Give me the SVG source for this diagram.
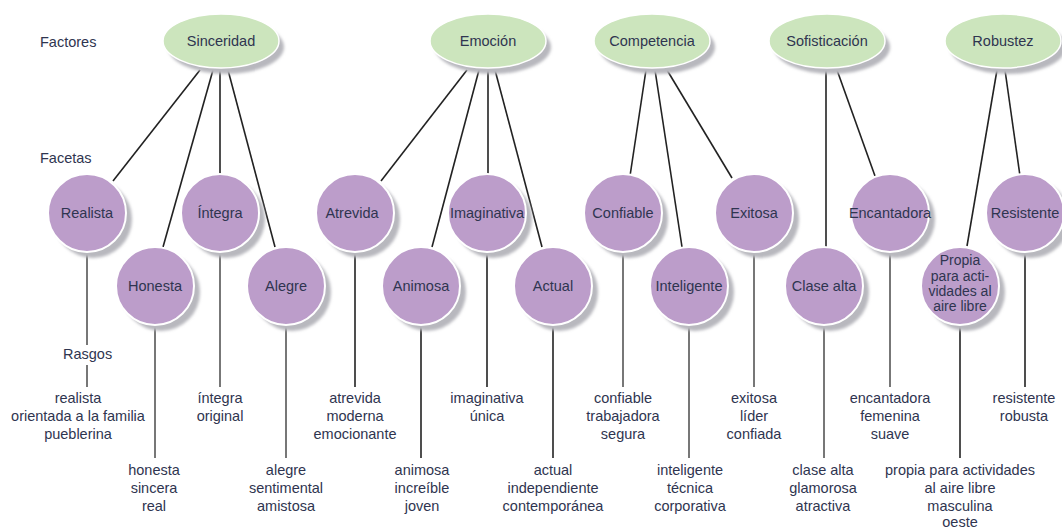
<svg xmlns="http://www.w3.org/2000/svg" width="1062" height="529" viewBox="0 0 1062 529">
<style>
text{font-family:"Liberation Sans Narrow","Liberation Sans",Arial,sans-serif;fill:#2f3550;text-anchor:middle}
.lbl{font-size:14.5px}
.row{font-size:14.5px;text-anchor:start}
.tr{font-size:14.5px}
.pr{font-size:14px}
.fac ellipse.b{fill:#cce5bd;stroke:#fff;stroke-width:1.5}
.sh{fill:#b8b8be;filter:url(#bl)}
.fc circle.b{fill:#bc9dca;stroke:#fff;stroke-width:2}
.cn line{stroke:#222;stroke-width:1.6}
.cn line.g{stroke:#777;stroke-width:2}
</style>
<defs>
<filter id="bl" x="-20%" y="-20%" width="140%" height="140%"><feGaussianBlur stdDeviation="1.5"/></filter>
</defs>
<rect width="1062" height="529" fill="#fff"/>
<text class="row" x="40" y="47">Factores</text>
<text class="row" x="40" y="163">Facetas</text>
<text class="row" x="63" y="359">Rasgos</text>

<g id="connectors" class="cn">
<line x1="200" y1="70" x2="113" y2="181"/>
<line x1="213" y1="70" x2="163" y2="247"/>
<line x1="220" y1="70" x2="220" y2="175"/>
<line x1="228" y1="70" x2="275" y2="247"/>
<line x1="467" y1="70" x2="381" y2="181"/>
<line x1="479" y1="70" x2="432" y2="247"/>
<line x1="488" y1="70" x2="488" y2="175"/>
<line x1="495" y1="70" x2="542" y2="247"/>
<line x1="646" y1="70" x2="630" y2="176"/>
<line x1="655" y1="70" x2="682" y2="247"/>
<line x1="667" y1="70" x2="732" y2="178"/>
<line x1="826" y1="70" x2="826" y2="247"/>
<line x1="837" y1="70" x2="875" y2="176"/>
<line x1="997" y1="70" x2="967" y2="246"/>
<line x1="1005" y1="70" x2="1020" y2="176"/>
<line class="g" x1="87" y1="253" x2="87" y2="345"/>
<line class="g" x1="87" y1="365" x2="87" y2="387"/>
<line class="g" x1="155" y1="326" x2="155" y2="458"/>
<line class="g" x1="220" y1="253" x2="220" y2="387"/>
<line class="g" x1="286" y1="326" x2="286" y2="458"/>
<line x1="355" y1="253" x2="355" y2="387"/>
<line x1="421" y1="326" x2="421" y2="458"/>
<line x1="487" y1="253" x2="487" y2="387"/>
<line x1="553" y1="326" x2="553" y2="458"/>
<line class="g" x1="623" y1="253" x2="623" y2="387"/>
<line class="g" x1="689" y1="326" x2="689" y2="458"/>
<line class="g" x1="754" y1="253" x2="754" y2="387"/>
<line class="g" x1="824" y1="326" x2="824" y2="458"/>
<line class="g" x1="890" y1="253" x2="890" y2="387"/>
<line x1="960" y1="326" x2="960" y2="458"/>
<line x1="1025" y1="253" x2="1025" y2="387"/>
</g>

<g id="f-sinceridad" class="fac"><ellipse class="sh" cx="226" cy="47" rx="58" ry="27"/><ellipse class="b" cx="221" cy="41" rx="58" ry="27"/><text class="lbl" x="221" y="46">Sinceridad</text></g>
<g id="f-emocion" class="fac"><ellipse class="sh" cx="493" cy="47" rx="58" ry="27"/><ellipse class="b" cx="488" cy="41" rx="58" ry="27"/><text class="lbl" x="488" y="46">Emoción</text></g>
<g id="f-competencia" class="fac"><ellipse class="sh" cx="657" cy="47" rx="58" ry="27"/><ellipse class="b" cx="652" cy="41" rx="58" ry="27"/><text class="lbl" x="652" y="46">Competencia</text></g>
<g id="f-sofisticacion" class="fac"><ellipse class="sh" cx="832" cy="47" rx="58" ry="27"/><ellipse class="b" cx="827" cy="41" rx="58" ry="27"/><text class="lbl" x="827" y="46">Sofisticación</text></g>
<g id="f-robustez" class="fac"><ellipse class="sh" cx="1008" cy="47" rx="58" ry="27"/><ellipse class="b" cx="1003" cy="41" rx="58" ry="27"/><text class="lbl" x="1003" y="46">Robustez</text></g>

<g id="n-realista" class="fc"><circle class="sh" cx="93" cy="219" r="39"/><circle class="b" cx="87" cy="213" r="39"/><text class="lbl" x="87" y="218">Realista</text></g>
<g id="n-honesta" class="fc"><circle class="sh" cx="161" cy="292" r="39"/><circle class="b" cx="155" cy="286" r="39"/><text class="lbl" x="155" y="291">Honesta</text></g>
<g id="n-integra" class="fc"><circle class="sh" cx="226" cy="219" r="39"/><circle class="b" cx="220" cy="213" r="39"/><text class="lbl" x="220" y="218">Íntegra</text></g>
<g id="n-alegre" class="fc"><circle class="sh" cx="292" cy="292" r="39"/><circle class="b" cx="286" cy="286" r="39"/><text class="lbl" x="286" y="291">Alegre</text></g>
<g id="n-atrevida" class="fc"><circle class="sh" cx="361" cy="219" r="39"/><circle class="b" cx="355" cy="213" r="39"/><text class="lbl" x="352" y="218">Atrevida</text></g>
<g id="n-animosa" class="fc"><circle class="sh" cx="427" cy="292" r="39"/><circle class="b" cx="421" cy="286" r="39"/><text class="lbl" x="421" y="291">Animosa</text></g>
<g id="n-imaginativa" class="fc"><circle class="sh" cx="493" cy="219" r="39"/><circle class="b" cx="487" cy="213" r="39"/><text class="lbl" x="487" y="218">Imaginativa</text></g>
<g id="n-actual" class="fc"><circle class="sh" cx="559" cy="292" r="39"/><circle class="b" cx="553" cy="286" r="39"/><text class="lbl" x="553" y="291">Actual</text></g>
<g id="n-confiable" class="fc"><circle class="sh" cx="629" cy="219" r="39"/><circle class="b" cx="623" cy="213" r="39"/><text class="lbl" x="623" y="218">Confiable</text></g>
<g id="n-inteligente" class="fc"><circle class="sh" cx="695" cy="292" r="39"/><circle class="b" cx="689" cy="286" r="39"/><text class="lbl" x="689" y="291">Inteligente</text></g>
<g id="n-exitosa" class="fc"><circle class="sh" cx="760" cy="219" r="39"/><circle class="b" cx="754" cy="213" r="39"/><text class="lbl" x="754" y="218">Exitosa</text></g>
<g id="n-clasealta" class="fc"><circle class="sh" cx="830" cy="292" r="39"/><circle class="b" cx="824" cy="286" r="39"/><text class="lbl" x="824" y="291">Clase alta</text></g>
<g id="n-encantadora" class="fc"><circle class="sh" cx="896" cy="219" r="39"/><circle class="b" cx="890" cy="213" r="39"/><text class="lbl" x="890" y="218">Encantadora</text></g>
<g id="n-propia" class="fc"><circle class="sh" cx="966" cy="292" r="39"/><circle class="b" cx="960" cy="286" r="39"/><text class="pr" x="960" y="265">Propia</text><text class="pr" x="960" y="281">para acti-</text><text class="pr" x="960" y="296">vidades al</text><text class="pr" x="960" y="311">aire libre</text></g>
<g id="n-resistente" class="fc"><circle class="sh" cx="1031" cy="219" r="39"/><circle class="b" cx="1025" cy="213" r="39"/><text class="lbl" x="1025" y="218">Resistente</text></g>

<g id="traits">
<text class="tr" x="78" y="403">realista</text><text class="tr" x="78" y="421">orientada a la familia</text><text class="tr" x="78" y="439">pueblerina</text>
<text class="tr" x="154" y="475">honesta</text><text class="tr" x="154" y="493">sincera</text><text class="tr" x="154" y="511">real</text>
<text class="tr" x="220" y="403">íntegra</text><text class="tr" x="220" y="421">original</text>
<text class="tr" x="286" y="475">alegre</text><text class="tr" x="286" y="493">sentimental</text><text class="tr" x="286" y="511">amistosa</text>
<text class="tr" x="355" y="403">atrevida</text><text class="tr" x="355" y="421">moderna</text><text class="tr" x="355" y="439">emocionante</text>
<text class="tr" x="422" y="475">animosa</text><text class="tr" x="422" y="493">increíble</text><text class="tr" x="422" y="511">joven</text>
<text class="tr" x="487" y="403">imaginativa</text><text class="tr" x="487" y="421">única</text>
<text class="tr" x="553" y="475">actual</text><text class="tr" x="553" y="493">independiente</text><text class="tr" x="553" y="511">contemporánea</text>
<text class="tr" x="623" y="403">confiable</text><text class="tr" x="623" y="421">trabajadora</text><text class="tr" x="623" y="439">segura</text>
<text class="tr" x="690" y="475">inteligente</text><text class="tr" x="690" y="493">técnica</text><text class="tr" x="690" y="511">corporativa</text>
<text class="tr" x="754" y="403">exitosa</text><text class="tr" x="754" y="421">líder</text><text class="tr" x="754" y="439">confiada</text>
<text class="tr" x="823" y="475">clase alta</text><text class="tr" x="823" y="493">glamorosa</text><text class="tr" x="823" y="511">atractiva</text>
<text class="tr" x="890" y="403">encantadora</text><text class="tr" x="890" y="421">femenina</text><text class="tr" x="890" y="439">suave</text>
<text class="tr" x="960" y="475">propia para actividades</text><text class="tr" x="960" y="493">al aire libre</text><text class="tr" x="960" y="511">masculina</text><text class="tr" x="960" y="527">oeste</text>
<text class="tr" x="1024" y="403">resistente</text><text class="tr" x="1024" y="421">robusta</text>
</g>
</svg>
